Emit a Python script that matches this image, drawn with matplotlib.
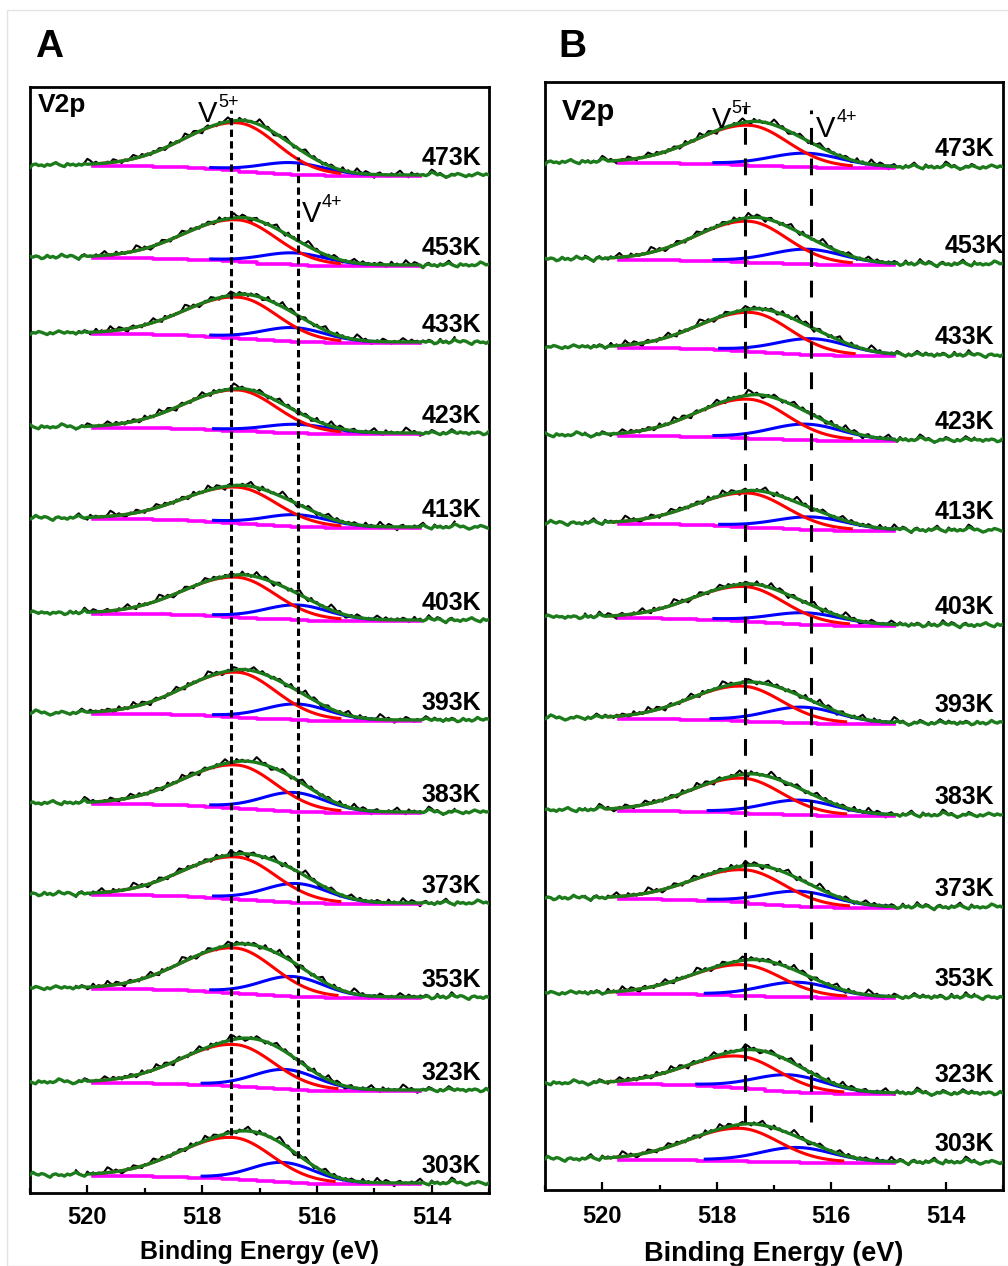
import numpy as np
import matplotlib
matplotlib.use("Agg")
import matplotlib.pyplot as plt
from matplotlib.patches import Rectangle
from matplotlib.ticker import MultipleLocator

plt.rcParams['font.family'] = ['Liberation Sans', 'DejaVu Sans']

# ---------------- data ----------------
temps = ['473K', '453K', '433K', '423K', '413K', '403K',
         '393K', '383K', '373K', '353K', '323K', '303K']

# Panel A
A_base = [1018, 928, 851, 760, 666, 573, 473, 381, 290, 196, 103, 10]
A_step = [10, 8, 9, 6, 9, 7, 7, 9, 9, 9, 8, 8]
A_v5_amp = [47, 41, 40, 40, 35, 39, 44, 42, 41, 44, 41, 41]
A_v5_pos = [517.37, 517.38, 517.37, 517.38, 517.38, 517.40,
            517.39, 517.40, 517.40, 517.43, 517.43, 517.46]
A_v4_amp = [11, 11, 13, 8, 11, 14, 15, 18, 18, 19, 19, 19]
A_v4_pos = [516.42, 516.40, 516.40, 516.35, 516.35, 516.35,
            516.35, 516.40, 516.35, 516.43, 516.55, 516.59]

# Panel B
B_base = [1023, 926, 835, 750, 660, 565, 467, 375, 283, 193, 97, 28]
B_step = [5, 5, 8, 5, 7, 8, 5, 5, 9, 4, 10, 3]
B_v5_amp = [39, 40, 38, 38, 33, 34, 34, 34, 32, 30, 31, 32]
B_v5_pos = [517.44, 517.45, 517.40, 517.45, 517.45, 517.50,
            517.55, 517.55, 517.50, 517.55, 517.60, 517.60]
B_v4_amp = [13, 14, 15, 15, 12, 11, 15, 14, 14, 14, 16, 14]
B_v4_pos = [516.44, 516.42, 516.33, 516.44, 516.35, 516.45,
            516.50, 516.55, 516.55, 516.60, 516.72, 516.60]

# hand-estimated jitter of the measured spectra (a.u.)
jitter = [0.0, 1.1, -0.4, 0.8, 2.0, 0.5, -0.9, 0.3, -1.6, -0.5,
          0.7, 1.5, -0.2, 0.4, -1.2, -2.1, -0.6, 0.9, 0.1, 1.8,
          3.0, 0.6, -0.7, 0.2, -1.0, 0.5, -0.3, 1.2, -1.8, -0.8,
          0.4, 2.3, 0.9, -0.4, 0.6, -1.4, 0.0, -0.6, 1.0, 0.3,
          -2.4, -1.0, 0.7, 1.4, -0.1, 0.8, 2.6, 0.2, -1.1, 0.5,
          -0.5, 1.6, -0.9, -1.7, 0.3, 1.0, -0.2, 0.6, -1.3, 0.4]

xticks_major = [520, 518, 516, 514]

W, H = 1008, 1266
fig = plt.figure(figsize=(W / 100, H / 100), dpi=100)
fig.patches.append(Rectangle((7 / W, 0), 1.0, 1 - 10 / H, transform=fig.transFigure,
                             fill=False, edgecolor='#e4e4e4', lw=1))

GREEN = '#1c7c1c'


def draw_panel(ax, base, step, v5a, v5p, v4a, v4p, cfg):
    E = np.round(np.arange(513.0, 521.0001, 0.05), 3)
    for k in range(len(temps)):
        red_pk = np.where(E >= v5p[k],
                          v5a[k] * np.exp(-(E - v5p[k]) ** 2 / (2 * cfg['sL'] ** 2)),
                          v5a[k] * np.exp(-(E - v5p[k]) ** 2 / (2 * cfg['sR'] ** 2)))
        blue_pk = v4a[k] * np.exp(-(E - v4p[k]) ** 2 / (2 * cfg['sB'] ** 2))
        tot = red_pk + blue_pk
        cum = np.cumsum(tot)
        bg = base[k] + step[k] * cum / cum[-1]
        env = bg + tot
        noise = np.array([jitter[(i + 17 * k) % len(jitter)] for i in range(len(E))])
        meas = env + noise

        lo, hi = cfg['fit']
        dlo, dhi = cfg['dat']
        fit = (E >= lo) & (E <= hi)
        dm = (E >= dlo) & (E <= dhi)

        # measured data (black)
        ax.plot(E[dm], env[dm] + 1.6 * noise[dm] + 0.6, color='black', lw=1.5, zorder=1)
        # background (magenta), drawn in coarse steps
        idx = np.where(fit)[0][::6]
        ax.plot(E[idx], bg[idx] - 1.0, color='#ff00ff', lw=2.6, zorder=2,
                drawstyle='steps-mid')
        # components
        bm = fit & (blue_pk > 0.03 * v4a[k])
        ax.plot(E[bm], (bg + blue_pk)[bm], color='#0000ff', lw=2.2, zorder=3)
        rm = fit & (red_pk > 0.03 * v5a[k])
        ax.plot(E[rm], (bg + red_pk)[rm], color='#ff0000', lw=2.2, zorder=4)
        # envelope / data outside window (green)
        gy = np.where(fit, env, meas)
        ax.plot(E, gy, color=GREEN, lw=2.4, zorder=5)

        ax.text(cfg['lab_x'][k], base[k] + cfg['lab_dy'], temps[k],
                ha='right', va='center', fontsize=18, fontweight='bold', zorder=6)

    for xv, y0, y1 in cfg['vlines']:
        ax.plot([xv, xv], [y0, y1], color='black', lw=2.2,
                linestyle=cfg['ls'], zorder=6)
    for (xv, yv, sup) in cfg['vlabels']:
        ax.text(xv, yv, 'V', fontsize=21, ha='left', va='baseline', zorder=7)
        ax.annotate(sup, xy=(xv, yv), xytext=(14.5, 10.5), textcoords='offset points',
                    fontsize=13, ha='left', va='baseline', zorder=7)

    ax.set_xlim(521, 513)
    ax.set_ylim(0, cfg['ytop'])
    ax.set_yticks([])
    ax.set_xticks(xticks_major)
    ax.xaxis.set_minor_locator(MultipleLocator(1))
    ax.tick_params(axis='x', which='major', direction='in', length=6, width=1.6,
                   pad=cfg['pad'], labelsize=17)
    ax.tick_params(axis='x', which='minor', direction='in', length=3.5, width=1.6)
    for t in ax.get_xticklabels():
        t.set_fontweight('bold')
    for s in ax.spines.values():
        s.set_linewidth(2.0)
    ax.set_xlabel('Binding Energy (eV)', fontsize=cfg['xlfs'], fontweight='bold',
                  labelpad=cfg['lpad'])
    ax.text(cfg['v2p'][0], cfg['v2p'][1], 'V2p', transform=ax.transAxes,
            fontsize=cfg['v2pfs'], fontweight='bold', ha='left', va='baseline')


axA = fig.add_axes([30 / W, 1 - 1193 / H, (489 - 30) / W, (1193 - 87) / H])
axB = fig.add_axes([545 / W, 1 - 1190 / H, (1003 - 545) / W, (1190 - 82) / H])

cfgA = dict(sL=0.92, sR=0.68, sB=0.55, fit=(514.2, 520.0), dat=(513.6, 520.2),
            lab_x=[513.13] * 12, lab_dy=17, ytop=1106,
            vlines=[(517.50, 58, 1083), (516.33, 35, 1036)], ls=(0, (2.4, 1.4)),
            vlabels=[(518.07, 1071, '5+'), (516.26, 971, '4+')],
            pad=9, xlfs=18, lpad=8, v2p=(8 / 459, 1 - 25 / 1106), v2pfs=19)
cfgB = dict(sL=0.90, sR=0.68, sB=0.62, fit=(514.9, 519.9), dat=(513.5, 520.3),
            lab_x=[513.15, 512.97] + [513.15] * 10, lab_dy=18, ytop=1108,
            vlines=[(517.50, 68, 1083), (516.36, 68, 1080)], ls=(0, (5.5, 4.5)),
            vlabels=[(518.09, 1062, '5+'), (516.26, 1053, '4+')],
            pad=11, xlfs=19.5, lpad=9, v2p=(17 / 458, 1 - 38 / 1108), v2pfs=21)

draw_panel(axA, A_base, A_step, A_v5_amp, A_v5_pos, A_v4_amp, A_v4_pos, cfgA)
draw_panel(axB, B_base, B_step, B_v5_amp, B_v5_pos, B_v4_amp, B_v4_pos, cfgB)

fig.text(35 / W, 1 - 57 / H, 'A', fontsize=28, fontweight='bold', ha='left', va='baseline')
fig.text(558 / W, 1 - 57 / H, 'B', fontsize=28, fontweight='bold', ha='left', va='baseline')

fig.savefig('out.png', dpi=100)
